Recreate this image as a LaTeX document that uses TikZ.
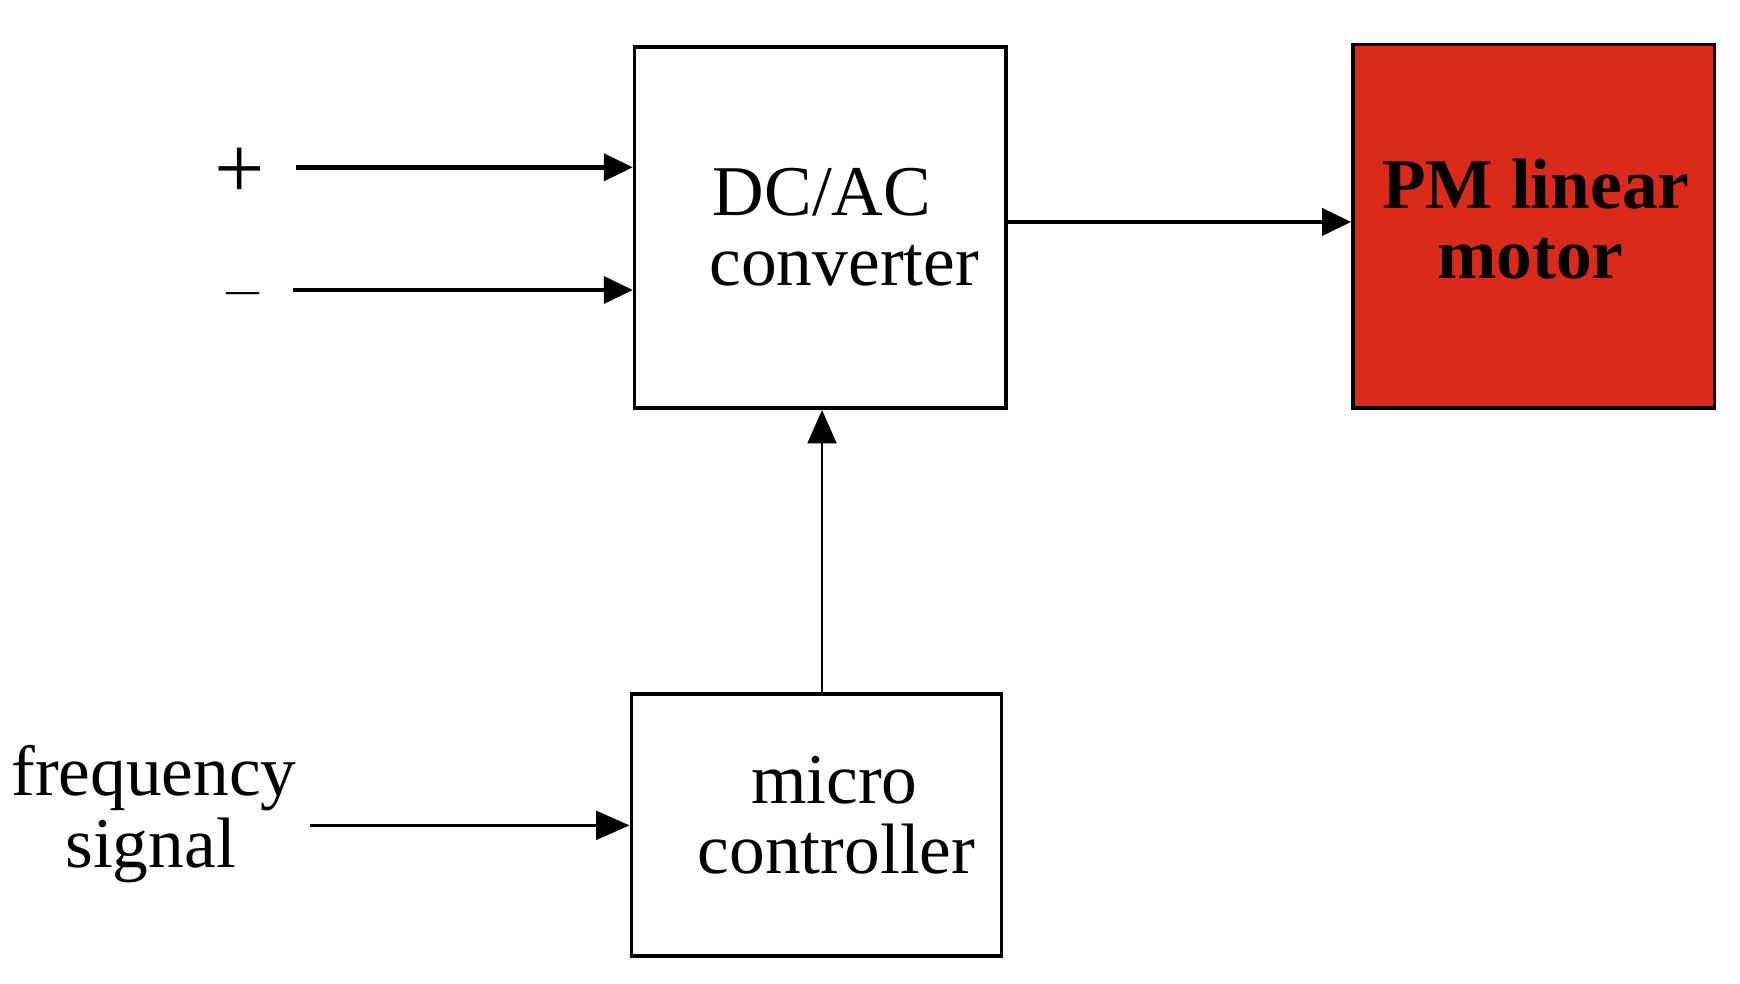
\documentclass[tikz,border=0pt]{standalone}
\usepackage{fontspec}
\setmainfont{Liberation Serif}
\usetikzlibrary{arrows.meta}
\definecolor{motorred}{HTML}{DC2A1A}
\begin{document}
\begin{tikzpicture}[x=0.5pt,y=-0.5pt,
  box/.style={draw,line width=1.6pt,inner sep=0pt},
  lbl/.style={font=\fontsize{32}{32}\selectfont,inner sep=0pt,anchor=base},
  thick arr/.style={line width=2pt,-{Triangle[length=13pt,width=12pt]}},
  thin arr/.style={line width=1pt,-{Triangle[length=15pt,width=13pt]}}]
\useasboundingbox (0,0) rectangle (1560,882);
\node[box,minimum width=166.5pt,minimum height=162pt] (conv) at (735.5,204) {};
\node[box,fill=motorred,minimum width=162pt,minimum height=163pt] (motor) at (1375,203) {};
\node[box,minimum width=166pt,minimum height=117.5pt] (mc) at (732,739.5) {};
\node[lbl] (t1) at (737,193) {DC/AC};
\node[lbl] (t2) at (757,256) {converter};
\node[lbl,font=\fontsize{32}{32}\selectfont\bfseries] (t3) at (1377,187) {PM linear};
\node[lbl,font=\fontsize{32}{32}\selectfont\bfseries] (t4) at (1372,250) {motor};
\node[lbl] (t5) at (748,720) {micro};
\node[lbl] (t6) at (750,783) {controller};
\node[lbl] (t7) at (138,713) {frequency};
\node[lbl] (t8) at (135,778) {signal};
\node[font=\fontsize{40}{40}\selectfont,inner sep=0pt] (plus) at (215,155) {+};
\node[font=\fontsize{40}{40}\selectfont,inner sep=0pt] (minus) at (218,263) {$-$};
\coordinate (p0) at (265,150);
\coordinate (m0) at (263,260);
\coordinate (f0) at (278,740);
\draw[thick arr] (p0) -- (p0 -| conv.west);
\draw[thick arr] (m0) -- (m0 -| conv.west);
\draw[thick arr] (conv.east |- 0,199) -- (motor.west |- 0,199);
\draw[thin arr] (mc.north -| 737,0) -- (conv.south -| 737,0);
\draw[thin arr] (f0) -- (f0 -| mc.west);
\end{tikzpicture}
\end{document}
